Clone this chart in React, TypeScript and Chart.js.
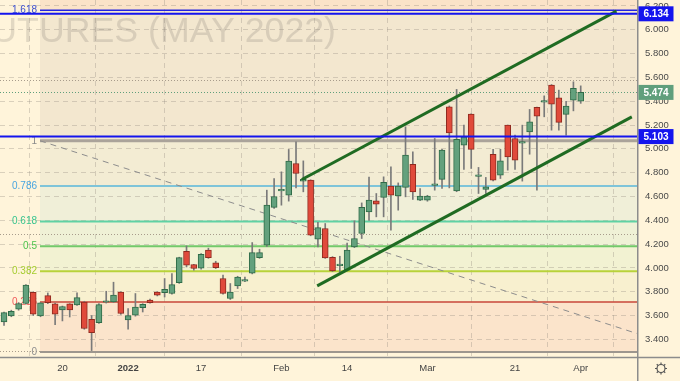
import { useEffect, useRef } from "react";
import { Chart, registerables } from "chart.js";
Chart.register(...registerables);

// ---- data ----
const opens = [3.546,3.597,3.653,3.701,3.796,3.597,3.768,3.698,3.647,3.698,3.689,3.714,3.569,3.541,3.712,3.714,3.798,3.563,3.603,3.667,3.729,3.798,3.793,3.785,3.877,4.140,4.029,3.997,4.149,4.042,3.911,3.743,3.849,3.889,3.955,4.087,4.191,4.508,4.647,4.611,4.877,4.729,4.737,4.241,4.331,4.090,4.020,3.981,4.176,4.289,4.471,4.563,4.592,4.687,4.605,4.676,4.871,4.569,4.569,4.693,4.743,5.353,4.647,5.031,5.292,4.769,4.659,4.955,4.779,5.199,5.087,5.048,5.143,5.348,5.393,5.535,5.429,5.289,5.409,5.401];
const closes = [3.625,3.636,3.701,3.855,3.611,3.706,3.709,3.611,3.676,3.647,3.751,3.491,3.457,3.692,3.716,3.771,3.617,3.600,3.672,3.695,3.709,3.771,3.821,3.860,4.087,4.023,3.995,4.115,4.087,4.003,3.785,3.798,3.924,3.893,4.129,4.129,4.527,4.600,4.661,4.897,4.793,4.743,4.275,4.339,4.084,3.975,4.025,4.149,4.247,4.508,4.569,4.535,4.718,4.611,4.687,4.947,4.639,4.603,4.603,4.697,4.989,5.134,5.079,5.101,4.995,4.773,4.681,4.737,4.899,4.933,4.905,5.052,5.227,5.275,5.397,5.376,5.222,5.359,5.508,5.474];
const highs = [3.630,3.645,3.709,3.860,3.800,3.710,3.790,3.705,3.680,3.700,3.790,3.720,3.600,3.700,3.804,3.880,3.800,3.659,3.785,3.700,3.739,3.800,3.911,3.953,4.090,4.185,4.030,4.120,4.166,4.056,3.939,3.869,3.930,3.924,4.213,4.157,4.653,4.751,4.807,4.995,5.059,4.899,4.740,4.382,4.373,4.095,4.098,4.208,4.395,4.546,4.762,4.625,4.765,4.849,4.714,5.185,4.975,4.667,4.610,5.087,4.995,5.360,5.499,5.199,5.295,4.844,4.760,4.997,4.997,5.200,5.115,5.199,5.331,5.350,5.445,5.540,5.493,5.400,5.563,5.529];
const lows = [3.518,3.590,3.645,3.695,3.600,3.590,3.700,3.524,3.555,3.588,3.685,3.485,3.306,3.535,3.705,3.710,3.610,3.485,3.595,3.630,3.705,3.765,3.756,3.780,3.870,4.008,3.981,3.990,4.080,3.995,3.779,3.735,3.827,3.885,3.950,4.080,4.180,4.500,4.527,4.561,4.672,4.639,4.270,4.176,4.080,3.970,3.966,3.975,4.170,4.247,4.400,4.429,4.429,4.317,4.485,4.597,4.575,4.565,4.560,4.653,4.667,4.672,4.640,4.827,4.835,4.625,4.625,4.730,4.751,4.821,4.827,4.729,4.955,4.653,5.269,5.157,5.157,5.115,5.319,5.382];

const xTickIndex = [8, 17, 27, 38, 47, 58, 70, 79];
const xTickLabels = ["20", "2022", "17", "Feb", "14", "Mar", "21", "Apr"];
const yTickValues = [3.4, 3.6, 3.8, 4.0, 4.2, 4.4, 4.6, 4.8, 5.0, 5.2, 5.4, 5.6, 5.8, 6.0, 6.2];
const xMin = -0.55;
const xMax = 86.71;
const yMin = 3.252;
const yMax = 6.25;

const fibRatios = [0, 0.236, 0.382, 0.5, 0.618, 0.786, 1, 1.618];
const fibLabels = ["0", "0.236", "0.382", "0.5", "0.618", "0.786", "1", "1.618"];
const fibLow = 3.295;
const fibHigh = 5.068;
const fibStartIndex = 4.93;

const fibTrend = [{ x: 4.93, y: 5.068 }, { x: 86.71, y: 3.449 }];
const upperChannel = [{ x: 40.8, y: 4.743 }, { x: 83.9, y: 6.157 }];
const lowerChannel = [{ x: 42.9, y: 3.849 }, { x: 86.0, y: 5.269 }];
const blueLevels = [6.134, 5.103];
const lastPrice = 5.474;
const grayDotted = [5.576, 4.285, 3.30];

// ---- styles ----
const CREAM = "#fff4da";
const fibBandFills = ["#fbe4cb", "#f8f0cf", "#f2f2d2", "#eff1d6", "#f0efd8", "#f3ecd3", "#f3e7cf"];
const fibTopFill = "#fbe3c8";
const fibLineColors = ["#9d968e", "#c9463a", "#b8d23a", "#72c96a", "#5fd2a4", "#7ec4d9", "#aaa39a", "#2424e0"];
const fibLineWidths = [2, 1.5, 2, 2, 2, 2, 3, 1.5];
const fibLabelColors = ["#8f8f8f", "#f05a5a", "#a6cc30", "#4cc24c", "#38c48e", "#4aa6e0", "#8a8a8a", "#3a4fd0"];
const UP = "#63a17d";
const UP_B = "#2f6b47";
const DN = "#e04a3b";
const DN_B = "#8f2a1f";
const WICK = "#7a7a7a";
const BLUE = "#1414ee";
const PRICE_GREEN = "#609f7c";
const FONT = "'Liberation Sans', Arial, sans-serif";

const fibValue = (r: number) => fibLow + r * (fibHigh - fibLow);

const decorPlugin = {
  id: "decor",
  beforeDraw(chart: any) {
    const { ctx, chartArea: ca, scales } = chart;
    const xs = scales.x, ys = scales.y;
    ctx.save();
    ctx.fillStyle = CREAM;
    ctx.fillRect(0, 0, chart.width, chart.height);
    ctx.beginPath();
    ctx.rect(ca.left, ca.top, ca.right - ca.left, ca.bottom - ca.top);
    ctx.clip();
    const fx = xs.getPixelForValue(fibStartIndex);
    const lv = fibRatios.map(fibValue);
    const yTop = ys.getPixelForValue(lv[lv.length - 1]);
    ctx.fillStyle = fibTopFill;
    ctx.fillRect(fx, ca.top, ca.right - fx, yTop - ca.top);
    for (let k = 0; k < lv.length - 1; k++) {
      const y0 = ys.getPixelForValue(lv[k]);
      const y1 = ys.getPixelForValue(lv[k + 1]);
      ctx.fillStyle = fibBandFills[k];
      ctx.fillRect(fx, y1, ca.right - fx, y0 - y1);
    }
    // watermark
    const probe = 100;
    ctx.font = `${probe}px ${FONT}`;
    const w = ctx.measureText("(MAY 2022)").width;
    const size = (probe * 188) / w;
    ctx.font = `${size}px ${FONT}`;
    ctx.fillStyle = "rgba(110,105,100,0.2)";
    ctx.textAlign = "right";
    ctx.textBaseline = "alphabetic";
    ctx.fillText("FUTURES (MAY 2022)", ca.left + 336, ca.top + 42);
    ctx.restore();
  },
  beforeDatasetsDraw(chart: any) {
    const { ctx, chartArea: ca, scales } = chart;
    const xs = scales.x, ys = scales.y;
    ctx.save();
    // dotted lines
    ctx.lineWidth = 1;
    ctx.setLineDash([1, 2]);
    grayDotted.forEach((v) => {
      const y = Math.round(ys.getPixelForValue(v)) + 0.5;
      ctx.strokeStyle = "#a89c8c";
      ctx.beginPath();
      ctx.moveTo(ca.left, y);
      ctx.lineTo(ca.right, y);
      ctx.stroke();
    });
    {
      const y = Math.round(ys.getPixelForValue(lastPrice)) + 0.5;
      ctx.strokeStyle = PRICE_GREEN;
      ctx.beginPath();
      ctx.moveTo(ca.left, y);
      ctx.lineTo(ca.right, y);
      ctx.stroke();
    }
    ctx.setLineDash([]);
    // fib levels
    const fx = xs.getPixelForValue(fibStartIndex);
    fibRatios.forEach((r, k) => {
      const y = ys.getPixelForValue(fibValue(r));
      ctx.strokeStyle = fibLineColors[k];
      ctx.lineWidth = fibLineWidths[k];
      ctx.beginPath();
      ctx.moveTo(fx, y);
      ctx.lineTo(ca.right, y);
      ctx.stroke();
      ctx.fillStyle = fibLabelColors[k];
      ctx.font = `10px ${FONT}`;
      ctx.textAlign = "right";
      ctx.textBaseline = "middle";
      ctx.fillText(fibLabels[k], fx - 3, y);
    });
    ctx.restore();
  },
  afterDatasetsDraw(chart: any) {
    const { ctx, chartArea: ca, scales } = chart;
    const ys = scales.y;
    ctx.save();
    ctx.strokeStyle = BLUE;
    ctx.lineWidth = 2;
    blueLevels.forEach((v) => {
      const y = ys.getPixelForValue(v);
      ctx.beginPath();
      ctx.moveTo(ca.left, y);
      ctx.lineTo(ca.right, y);
      ctx.stroke();
    });
    ctx.restore();
  },
  afterDraw(chart: any) {
    const { ctx, chartArea: ca, scales } = chart;
    const ys = scales.y;
    ctx.save();
    // axis borders
    ctx.strokeStyle = "#8c8c8c";
    ctx.lineWidth = 1.5;
    ctx.beginPath();
    ctx.moveTo(ca.right + 0.75, 0);
    ctx.lineTo(ca.right + 0.75, chart.height);
    ctx.moveTo(0, ca.bottom + 0.5);
    ctx.lineTo(chart.width, ca.bottom + 0.5);
    ctx.stroke();
    // price labels
    const box = (v: number, color: string) => {
      const y = ys.getPixelForValue(v);
      ctx.fillStyle = color;
      ctx.fillRect(ca.right + 1.5, y - 7.5, 35, 15);
      ctx.fillStyle = "#ffffff";
      ctx.font = `bold 10px ${FONT}`;
      ctx.textAlign = "center";
      ctx.textBaseline = "middle";
      ctx.fillText(v.toFixed(3), ca.right + 19, y + 0.5);
    };
    blueLevels.forEach((v) => box(v, BLUE));
    box(lastPrice, PRICE_GREEN);
    // gear icon
    const gx = ca.right + 24, gy = ca.bottom + 11.5;
    ctx.strokeStyle = "#555";
    ctx.lineWidth = 1.2;
    ctx.beginPath();
    ctx.arc(gx, gy, 4, 0, Math.PI * 2);
    ctx.stroke();
    for (let k = 0; k < 8; k++) {
      const a = (k * Math.PI) / 4;
      ctx.beginPath();
      ctx.moveTo(gx + Math.cos(a) * 4, gy + Math.sin(a) * 4);
      ctx.lineTo(gx + Math.cos(a) * 6, gy + Math.sin(a) * 6);
      ctx.stroke();
    }
    ctx.restore();
  },
};

export default function App() {
  const ref = useRef<HTMLCanvasElement | null>(null);
  useEffect(() => {
    if (!ref.current) return;
    const up = closes.map((c, i) => c >= opens[i]);
    const chart = new Chart(ref.current, {
      type: "bar",
      data: {
        datasets: [
          {
            type: "line",
            data: fibTrend,
            borderColor: "#8d8d8d",
            borderWidth: 1,
            borderDash: [6, 5],
            pointRadius: 0,
            order: 4,
          } as any,
          {
            type: "bar",
            data: lows.map((l, i) => ({ x: i, y: [l, highs[i]] })),
            backgroundColor: WICK,
            borderWidth: 0,
            barThickness: 1,
            grouped: false,
            order: 3,
          } as any,
          {
            type: "bar",
            data: opens.map((o, i) => ({ x: i, y: [o, closes[i]] })),
            backgroundColor: up.map((u) => (u ? UP : DN)),
            borderColor: up.map((u) => (u ? UP_B : DN_B)),
            borderWidth: 1,
            borderSkipped: false,
            barThickness: 6,
            minBarLength: 1.5,
            grouped: false,
            order: 2,
          } as any,
          {
            type: "line",
            data: upperChannel,
            borderColor: "#1f6b22",
            borderWidth: 3,
            pointRadius: 0,
            order: 1,
          } as any,
          {
            type: "line",
            data: lowerChannel,
            borderColor: "#1f6b22",
            borderWidth: 3,
            pointRadius: 0,
            order: 1,
          } as any,
        ],
      },
      options: {
        responsive: false,
        animation: false,
        layout: { padding: 0 },
        plugins: { legend: { display: false }, tooltip: { enabled: false } },
        scales: {
          x: {
            type: "linear",
            min: xMin,
            max: xMax,
            offset: false,
            afterBuildTicks: (s: any) => {
              s.ticks = xTickIndex.map((v) => ({ value: v }));
            },
            afterFit: (s: any) => {
              s.height = 24;
              s.paddingLeft = 0;
              s.paddingRight = 0;
            },
            ticks: {
              autoSkip: false,
              maxRotation: 0,
              padding: 6,
              color: "#444",
              font: (c: any) => ({
                family: FONT,
                size: 9.5,
                weight: c.tick && c.tick.value === 17 ? "bold" : "normal",
              }),
              callback: (v: any) => xTickLabels[xTickIndex.indexOf(v)] ?? "",
            },
            grid: { color: "rgba(150,140,130,0.35)", lineWidth: 1, drawTicks: false },
            border: { display: false, dash: [5, 4] },
          },
          y: {
            type: "linear",
            position: "right",
            min: yMin,
            max: yMax,
            afterBuildTicks: (s: any) => {
              s.ticks = yTickValues.map((v) => ({ value: v }));
            },
            afterFit: (s: any) => {
              s.width = 43;
              s.paddingTop = 0;
              s.paddingBottom = 0;
            },
            ticks: {
              padding: 8,
              color: "#4a4a4a",
              font: { family: FONT, size: 9.5 },
              callback: (v: any) => Number(v).toFixed(3),
            },
            grid: { color: "rgba(150,140,130,0.35)", lineWidth: 1, drawTicks: false },
            border: { display: false, dash: [5, 4] },
          },
        },
      } as any,
      plugins: [decorPlugin],
    });
    return () => chart.destroy();
  }, []);
  return (
    <div style={{ position: "absolute", left: 0, top: 0, width: 680, height: 381 }}>
      <canvas ref={ref} width={680} height={381} style={{ display: "block", width: 680, height: 381 }} />
    </div>
  );
}
